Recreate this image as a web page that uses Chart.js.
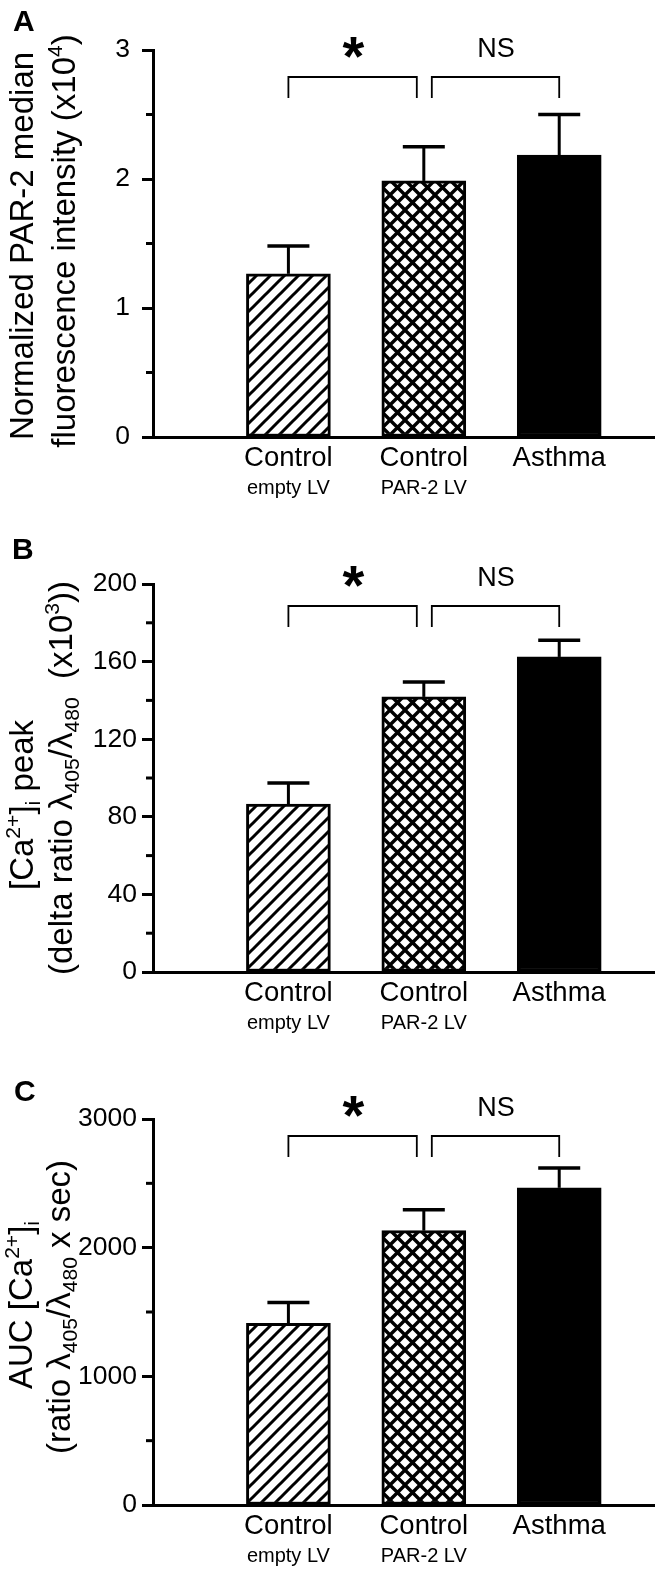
<!DOCTYPE html>
<html>
<head>
<meta charset="utf-8">
<script src="https://cdn.jsdelivr.net/npm/chart.js@4.4.1/dist/chart.umd.min.js"></script>
<style>
html, body { margin:0; padding:0; background:#fff; }
#wrap { position:relative; width:660px; height:1574px; background:#fff; }
canvas { position:absolute; left:0; }
</style>
</head>
<body>
<div id="wrap">
  <canvas id="cA" width="660" height="530" style="top:0px;width:660px;height:530px"></canvas>
  <canvas id="cB" width="660" height="520" style="top:530px;width:660px;height:520px"></canvas>
  <canvas id="cC" width="660" height="524" style="top:1050px;width:660px;height:524px"></canvas>
</div>
<script>
// ---------- data ----------
const categories    = ['Control', 'Control', 'Asthma'];
const subCategories = ['empty LV', 'PAR-2 LV', ''];

const parMeans  = [1.265, 1.985, 2.185];
const parUpper  = [1.48, 2.25, 2.50];
const parTicks  = [0, 1, 2, 3];
const parMinor  = [0.5, 1.5, 2.5];

const peakMeans = [86.5, 141.8, 162.4];
const peakUpper = [97.4, 149.5, 171.0];
const peakTicks = [0, 40, 80, 120, 160, 200];
const peakMinor = [20, 60, 100, 140, 180];

const aucMeans  = [1411, 2132, 2465];
const aucUpper  = [1574, 2295, 2620];
const aucTicks  = [0, 1000, 2000, 3000];
const aucMinor  = [500, 1500, 2500];

const signifLabels = ['*', 'NS'];

// title segments: [text, kind] kind: n normal, sup, sub
const titleA1 = [['Normalized PAR-2 median','n']];
const titleA2 = [['fluorescence intensity (x10','n'],['4','sup'],[')','n']];
const titleB1 = [['[Ca','n'],['2+','sup'],[']','n'],['i','sub'],[' peak','n']];
const titleB2 = [['(delta ratio \u03BB','n'],['405','sub'],['/\u03BB','n'],['480','sub'],['  (x10','n'],['3','sup'],['))','n']];
const titleC1 = [['AUC [Ca','n'],['2+','sup'],[']','n'],['i','sub']];
const titleC2 = [['(ratio \u03BB','n'],['405','sub'],['/\u03BB','n'],['480','sub'],[' x sec)','n']];

// ---------- styling ----------
const FONT = '"Liberation Sans", Arial, Helvetica, sans-serif';
Chart.defaults.font.family = FONT;
Chart.defaults.color = '#000';

function makePattern(period, lw, cross) {
  const c = document.createElement('canvas');
  c.width = period; c.height = period;
  const g = c.getContext('2d');
  g.fillStyle = '#fff'; g.fillRect(0, 0, period, period);
  g.strokeStyle = '#000'; g.lineWidth = lw; g.lineCap = 'butt';
  g.beginPath();
  for (let k = 0; k <= 2; k++) {
    g.moveTo(-2, k * period + 2); g.lineTo(period + 2, k * period - period - 2);
  }
  if (cross) {
    for (let k = -1; k <= 1; k++) {
      const cc = k * period;
      g.moveTo(-2, cc - 2); g.lineTo(period + 2, cc + period + 2);
    }
  }
  g.stroke();
  return g.createPattern(c, 'repeat');
}
const fills = [makePattern(14, 3, false), makePattern(15, 3.4, true), '#000'];

function drawRich(ctx, segs, baseX, centerY, size) {
  ctx.save();
  ctx.translate(baseX, centerY);
  ctx.rotate(-Math.PI / 2);
  ctx.textBaseline = 'alphabetic';
  ctx.textAlign = 'left';
  ctx.fillStyle = '#000';
  const items = segs.map(([t, k]) => {
    const s = k === 'n' ? size : size * 0.64;
    ctx.font = s + 'px ' + FONT;
    return { t, k, s, w: ctx.measureText(t).width };
  });
  const W = items.reduce((a, b) => a + b.w, 0);
  let x = -W / 2;
  for (const it of items) {
    ctx.font = it.s + 'px ' + FONT;
    const dy = it.k === 'sup' ? -size * 0.40 : it.k === 'sub' ? size * 0.22 : 0;
    ctx.fillText(it.t, x, dy);
    x += it.w;
  }
  ctx.restore();
}

function centeredText(ctx, text, font, cx, cy) {
  ctx.save();
  ctx.font = font;
  ctx.textAlign = 'left';
  ctx.textBaseline = 'alphabetic';
  const m = ctx.measureText(text);
  const w = m.actualBoundingBoxLeft + m.actualBoundingBoxRight;
  const h = m.actualBoundingBoxAscent + m.actualBoundingBoxDescent;
  const x = cx - w / 2 + m.actualBoundingBoxLeft;
  const y = cy - h / 2 + m.actualBoundingBoxAscent;
  ctx.fillStyle = '#000';
  ctx.fillText(text, x, y);
  ctx.restore();
}

function overlayPlugin(p) {
  return {
    id: 'overlay' + p.letter,
    afterDatasetsDraw(chart) {
      const ctx = chart.ctx;
      const ys = chart.scales.y;
      const meta = chart.getDatasetMeta(0);
      ctx.save();
      ctx.strokeStyle = '#000';
      meta.data.forEach((el, i) => {
        const up = ys.getPixelForValue(p.upper[i]);
        ctx.lineWidth = 3;
        ctx.beginPath(); ctx.moveTo(el.x, el.y); ctx.lineTo(el.x, up); ctx.stroke();
        ctx.lineWidth = 3.5;
        ctx.beginPath(); ctx.moveTo(el.x - 21, up); ctx.lineTo(el.x + 21, up); ctx.stroke();
      });
      ctx.restore();
    },
    afterDraw(chart) {
      const ctx = chart.ctx;
      const ys = chart.scales.y, xs = chart.scales.x;
      const area = chart.chartArea;
      ctx.save();
      // minor ticks
      ctx.strokeStyle = '#000'; ctx.lineWidth = 3;
      p.minor.forEach(v => {
        const y = ys.getPixelForValue(v);
        ctx.beginPath(); ctx.moveTo(area.left - 7, y); ctx.lineTo(area.left, y); ctx.stroke();
      });
      // brackets
      const by = area.top + p.bracketOff;
      const legB = by + 21;
      const x1 = xs.getPixelForValue(1), x2 = xs.getPixelForValue(2), x3 = xs.getPixelForValue(3);
      const br = [[x1, x2 - 7], [x2 + 8, x3]];
      ctx.lineWidth = 1.8;
      br.forEach(([a, b]) => {
        ctx.beginPath();
        ctx.moveTo(a, legB); ctx.lineTo(a, by); ctx.lineTo(b, by); ctx.lineTo(b, legB);
        ctx.stroke();
      });
      centeredText(ctx, signifLabels[0], 'bold 56px ' + FONT, (br[0][0] + br[0][1]) / 2 + 1, by - 30);
      centeredText(ctx, signifLabels[1], '27px ' + FONT, (br[1][0] + br[1][1]) / 2 + 1, by - 30);
      // panel letter
      ctx.fillStyle = '#000';
      ctx.font = 'bold 30px ' + FONT;
      ctx.textBaseline = 'alphabetic';
      ctx.fillText(p.letter, p.letterPos[0], p.letterPos[1]);
      // axis titles
      drawRich(ctx, p.title[0], p.titleBase[0], p.titleCenter[0], 33);
      drawRich(ctx, p.title[1], p.titleBase[1], p.titleCenter[1], 33);
      ctx.restore();
    }
  };
}

function makeChart(p) {
  const canvas = document.getElementById(p.canvas);
  const subH = p.height - p.bottom - 39;
  return new Chart(canvas, {
    type: 'bar',
    data: {
      datasets: [{
        data: p.means.map((v, i) => ({ x: i + 1, y: v })),
        backgroundColor: fills,
        borderColor: '#000',
        borderWidth: 3,
        borderSkipped: false,
        barThickness: 84,
        xAxisID: 'x', yAxisID: 'y'
      }]
    },
    options: {
      responsive: false,
      animation: false,
      devicePixelRatio: 1,
      layout: { padding: { left: 0, right: 6, top: p.top, bottom: 0 } },
      plugins: { legend: { display: false }, tooltip: { enabled: false } },
      scales: {
        x: {
          type: 'linear', axis: 'x', position: 'bottom', weight: 0,
          min: 0, max: 3.70, offset: false,
          afterBuildTicks: s => { s.ticks = categories.map((c, i) => ({ value: i + 1 })); },
          ticks: { autoSkip: false, maxRotation: 0, padding: 5, font: { size: 27.5 }, color: '#000',
                   callback: v => categories[Math.round(v) - 1] || '' },
          grid: { display: false, drawTicks: false },
          border: { display: true, width: 3, color: '#000' },
          afterFit: s => { s.height = 39; }
        },
        xSub: {
          type: 'linear', axis: 'x', position: 'bottom', weight: 1,
          min: 0, max: 3.70, offset: false,
          afterBuildTicks: s => { s.ticks = subCategories.map((c, i) => ({ value: i + 1 })); },
          ticks: { autoSkip: false, maxRotation: 0, padding: 0, font: { size: 20 }, color: '#000',
                   callback: v => subCategories[Math.round(v) - 1] || '' },
          grid: { display: false, drawTicks: false },
          border: { display: false },
          afterFit: s => { s.height = subH; }
        },
        y: {
          type: 'linear', position: 'left', min: 0, max: p.ticks[p.ticks.length - 1],
          afterBuildTicks: s => { s.ticks = p.ticks.map(v => ({ value: v })); },
          ticks: { autoSkip: false, padding: p.tickPad, font: { size: 26.5 }, color: '#000',
                   callback: v => String(v) },
          grid: { display: true, drawOnChartArea: false, drawTicks: true, tickLength: 11,
                  tickWidth: 3, tickColor: '#000' },
          border: { display: true, width: 3, color: '#000' },
          afterFit: s => { s.width = 153; }
        }
      }
    },
    plugins: [overlayPlugin(p)]
  });
}

const panels = [
  { canvas: 'cA', letter: 'A', means: parMeans, upper: parUpper, ticks: parTicks, minor: parMinor,
    height: 530, top: 50, bottom: 437, tickPad: 12, bracketOff: 27, letterPos: [13, 31],
    title: [titleA1, titleA2], titleBase: [33, 75], titleCenter: [246, 241] },
  { canvas: 'cB', letter: 'B', means: peakMeans, upper: peakUpper, ticks: peakTicks, minor: peakMinor,
    height: 520, top: 54, bottom: 442, tickPad: 5, bracketOff: 22, letterPos: [12, 29],
    title: [titleB1, titleB2], titleBase: [33, 72], titleCenter: [275, 248] },
  { canvas: 'cC', letter: 'C', means: aucMeans, upper: aucUpper, ticks: aucTicks, minor: aucMinor,
    height: 524, top: 69, bottom: 455, tickPad: 5, bracketOff: 17, letterPos: [14, 51],
    title: [titleC1, titleC2], titleBase: [32, 70], titleCenter: [255, 257] }
];
panels.forEach(makeChart);
</script>
</body>
</html>
